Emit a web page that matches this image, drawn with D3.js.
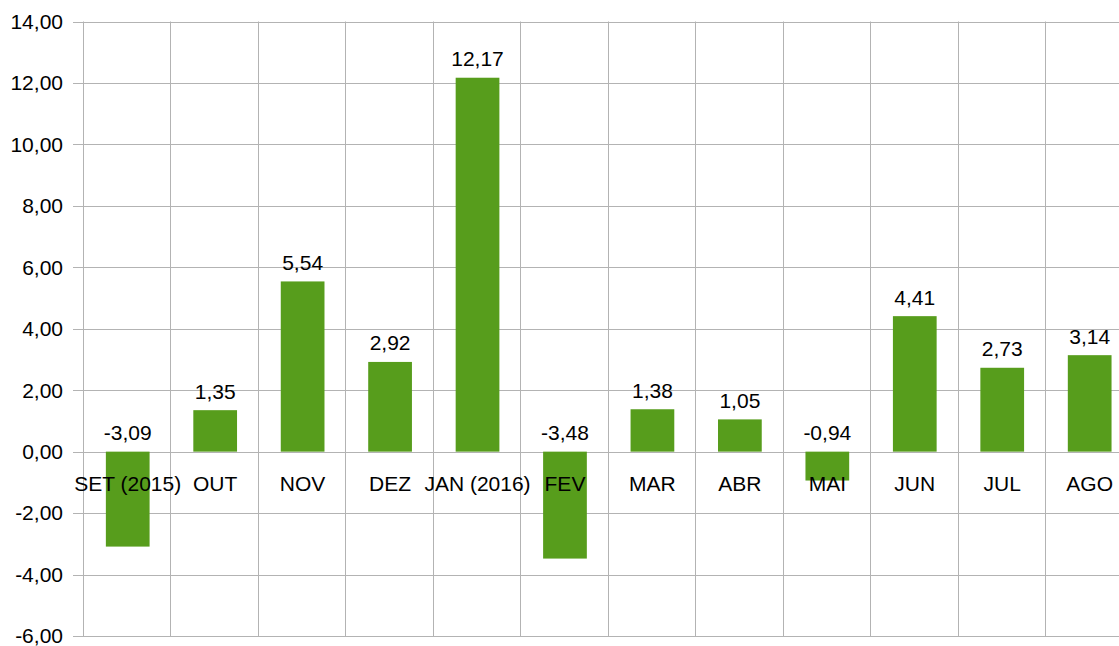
<!DOCTYPE html>
<html>
<head>
<meta charset="UTF-8">
<script src="https://d3js.org/d3.v7.min.js"></script>
<style>
    body { margin: 0; background: #fff; }
    text { font-family: "Liberation Sans", Arial, sans-serif; fill: #000; }
</style>
</head>
<body>
<div id="chart"></div>
<script>
// dados do gráfico
const months = ["SET (2015)", "OUT", "NOV", "DEZ", "JAN (2016)", "FEV", "MAR", "ABR", "MAI", "JUN", "JUL", "AGO"];
const values = [-3.09, 1.35, 5.54, 2.92, 12.17, -3.48, 1.38, 1.05, -0.94, 4.41, 2.73, 3.14];
const yTicks = [-6, -4, -2, 0, 2, 4, 6, 8, 10, 12, 14];

const width = 1119, height = 646;
const plotLeft = 84, plotTop = 21.5, plotBottom = 636;
const bandW = 87.45;
const fontSize = "21px";

// formato brasileiro: vírgula decimal, hífen simples
const fmt = v => d3.format(".2f")(v).replace(".", ",").replace("\u2212", "-");

const svg = d3.select("#chart").append("svg")
    .attr("width", width)
    .attr("height", height);

const x = d3.scaleBand()
    .domain(months)
    .range([plotLeft, plotLeft + bandW * months.length])
    .paddingInner(0.5)
    .paddingOuter(0.25);

const y = d3.scaleLinear()
    .domain([-6, 14])
    .range([plotBottom, plotTop]);

// linhas de grade horizontais
svg.append("g")
    .selectAll("line")
    .data(yTicks)
    .join("line")
    .attr("x1", plotLeft - 11)
    .attr("x2", width)
    .attr("y1", d => Math.round(y(d)) + 0.5)
    .attr("y2", d => Math.round(y(d)) + 0.5)
    .attr("stroke", "#b3b3b3")
    .attr("stroke-width", 1);

// linhas de grade verticais (limites das categorias)
const bounds = d3.range(months.length + 1).map(i => plotLeft + i * bandW);
svg.append("g")
    .selectAll("line")
    .data(bounds)
    .join("line")
    .attr("x1", d => Math.round(d) - 0.5)
    .attr("x2", d => Math.round(d) - 0.5)
    .attr("y1", plotTop)
    .attr("y2", plotBottom)
    .attr("stroke", "#b3b3b3")
    .attr("stroke-width", 1);

// rótulos do eixo Y
svg.append("g")
    .selectAll("text")
    .data(yTicks)
    .join("text")
    .attr("x", 63)
    .attr("y", d => y(d))
    .attr("dy", "0.35em")
    .attr("text-anchor", "end")
    .style("font-size", fontSize)
    .text(fmt);

// barras
svg.append("g")
    .selectAll("rect")
    .data(values)
    .join("rect")
    .attr("x", (d, i) => x(months[i]))
    .attr("width", x.bandwidth())
    .attr("y", d => y(Math.max(0, d)))
    .attr("height", d => Math.abs(y(d) - y(0)))
    .attr("fill", "#579d1c");

// valores acima das barras
svg.append("g")
    .selectAll("text")
    .data(values)
    .join("text")
    .attr("x", (d, i) => x(months[i]) + x.bandwidth() / 2)
    .attr("y", d => y(Math.max(0, d)) - 11.5)
    .attr("text-anchor", "middle")
    .style("font-size", fontSize)
    .text(fmt);

// rótulos das categorias
svg.append("g")
    .selectAll("text")
    .data(months)
    .join("text")
    .attr("x", d => x(d) + x.bandwidth() / 2)
    .attr("y", y(0) + 32)
    .attr("dy", "0.35em")
    .attr("text-anchor", "middle")
    .style("font-size", fontSize)
    .text(d => d);
</script>
</body>
</html>
